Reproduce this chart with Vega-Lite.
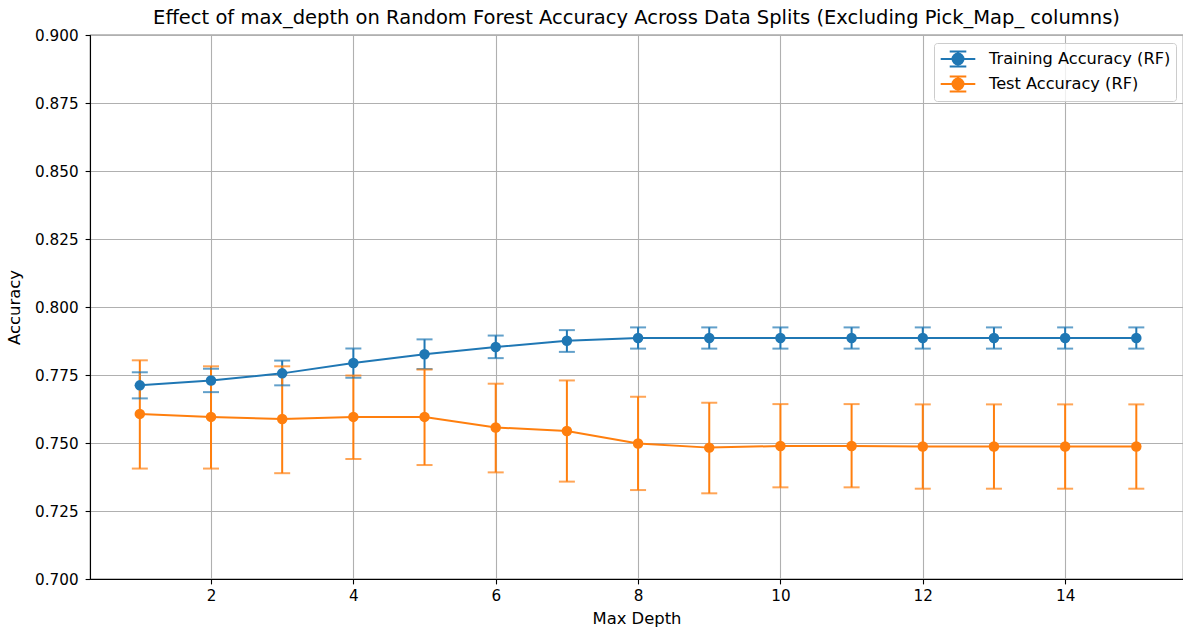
{
  "$schema": "https://vega.github.io/schema/vega-lite/v6.json",
  "autosize": {"type": "none"},
  "width": 1093,
  "height": 544,
  "padding": {"left": 90, "top": 35, "right": 0, "bottom": 56},
  "background": "white",
  "title": {
    "text": "Effect of max_depth on Random Forest Accuracy Across Data Splits (Excluding Pick_Map_ columns)",
    "frame": "group",
    "anchor": "middle",
    "baseline": "alphabetic",
    "offset": -15,
    "font": "DejaVu Sans",
    "fontSize": 19.5,
    "fontWeight": "normal",
    "color": "black"
  },
  "config": {
    "font": "DejaVu Sans",
    "view": {"stroke": "black", "strokeWidth": 1.1},
    "axis": {
      "labelFont": "DejaVu Sans",
      "labelFontSize": 15.2,
      "labelColor": "black",
      "titleFont": "DejaVu Sans",
      "titleFontSize": 16.4,
      "titleFontWeight": "normal",
      "titleColor": "black",
      "gridColor": "#b0b0b0",
      "gridWidth": 1.1,
      "gridOpacity": 1,
      "domainColor": "black",
      "domainWidth": 1.1,
      "tickColor": "black",
      "tickWidth": 1.1,
      "tickSize": 4.9,
      "labelFlush": false,
      "labelOverlap": false
    }
  },
  "data": {
    "values": [
      {"depth": 1, "series": "Training Accuracy (RF)", "mean": 0.7712, "lo": 0.7664, "hi": 0.7760},
      {"depth": 2, "series": "Training Accuracy (RF)", "mean": 0.7730, "lo": 0.7687, "hi": 0.7773},
      {"depth": 3, "series": "Training Accuracy (RF)", "mean": 0.7756, "lo": 0.7712, "hi": 0.7803},
      {"depth": 4, "series": "Training Accuracy (RF)", "mean": 0.7794, "lo": 0.7740, "hi": 0.7847},
      {"depth": 5, "series": "Training Accuracy (RF)", "mean": 0.7826, "lo": 0.7772, "hi": 0.7881},
      {"depth": 6, "series": "Training Accuracy (RF)", "mean": 0.7853, "lo": 0.7812, "hi": 0.7895},
      {"depth": 7, "series": "Training Accuracy (RF)", "mean": 0.7876, "lo": 0.7835, "hi": 0.7915},
      {"depth": 8, "series": "Training Accuracy (RF)", "mean": 0.7886, "lo": 0.7847, "hi": 0.7925},
      {"depth": 9, "series": "Training Accuracy (RF)", "mean": 0.7886, "lo": 0.7847, "hi": 0.7925},
      {"depth": 10, "series": "Training Accuracy (RF)", "mean": 0.7886, "lo": 0.7847, "hi": 0.7925},
      {"depth": 11, "series": "Training Accuracy (RF)", "mean": 0.7886, "lo": 0.7847, "hi": 0.7925},
      {"depth": 12, "series": "Training Accuracy (RF)", "mean": 0.7886, "lo": 0.7847, "hi": 0.7925},
      {"depth": 13, "series": "Training Accuracy (RF)", "mean": 0.7886, "lo": 0.7847, "hi": 0.7925},
      {"depth": 14, "series": "Training Accuracy (RF)", "mean": 0.7886, "lo": 0.7847, "hi": 0.7925},
      {"depth": 15, "series": "Training Accuracy (RF)", "mean": 0.7886, "lo": 0.7847, "hi": 0.7925},
      {"depth": 1, "series": "Test Accuracy (RF)", "mean": 0.7607, "lo": 0.7406, "hi": 0.7804},
      {"depth": 2, "series": "Test Accuracy (RF)", "mean": 0.7596, "lo": 0.7406, "hi": 0.7782},
      {"depth": 3, "series": "Test Accuracy (RF)", "mean": 0.7588, "lo": 0.7389, "hi": 0.7782},
      {"depth": 4, "series": "Test Accuracy (RF)", "mean": 0.7596, "lo": 0.7441, "hi": 0.7748},
      {"depth": 5, "series": "Test Accuracy (RF)", "mean": 0.7596, "lo": 0.7419, "hi": 0.7770},
      {"depth": 6, "series": "Test Accuracy (RF)", "mean": 0.7557, "lo": 0.7392, "hi": 0.7718},
      {"depth": 7, "series": "Test Accuracy (RF)", "mean": 0.7544, "lo": 0.7358, "hi": 0.7730},
      {"depth": 8, "series": "Test Accuracy (RF)", "mean": 0.7498, "lo": 0.7327, "hi": 0.7670},
      {"depth": 9, "series": "Test Accuracy (RF)", "mean": 0.7483, "lo": 0.7315, "hi": 0.7648},
      {"depth": 10, "series": "Test Accuracy (RF)", "mean": 0.7489, "lo": 0.7337, "hi": 0.7643},
      {"depth": 11, "series": "Test Accuracy (RF)", "mean": 0.7489, "lo": 0.7337, "hi": 0.7643},
      {"depth": 12, "series": "Test Accuracy (RF)", "mean": 0.7487, "lo": 0.7332, "hi": 0.7642},
      {"depth": 13, "series": "Test Accuracy (RF)", "mean": 0.7487, "lo": 0.7332, "hi": 0.7642},
      {"depth": 14, "series": "Test Accuracy (RF)", "mean": 0.7487, "lo": 0.7332, "hi": 0.7642},
      {"depth": 15, "series": "Test Accuracy (RF)", "mean": 0.7487, "lo": 0.7332, "hi": 0.7642}
    ]
  },
  "encoding": {
    "x": {
      "field": "depth",
      "type": "quantitative",
      "scale": {"domain": [0.3, 15.656], "nice": false, "zero": false},
      "axis": {"title": "Max Depth", "values": [2, 4, 6, 8, 10, 12, 14], "format": "d", "labelPadding": 5, "titlePadding": 6}
    },
    "color": {
      "field": "series",
      "type": "nominal",
      "scale": {"domain": ["Training Accuracy (RF)", "Test Accuracy (RF)"], "range": ["#1f77b4", "#ff7f0e"]},
      "legend": {
        "title": null,
        "orient": "none",
        "legendX": 844,
        "legendY": 8,
        "symbolType": "M-1.73,0L1.73,0M0,-0.75L0,0.75M-0.83,-0.75L0.83,-0.75M-0.83,0.75L0.83,0.75M-0.55,0A0.55,0.55,0,1,1,0.55,0A0.55,0.55,0,1,1,-0.55,0Z",
        "symbolSize": 400,
        "symbolOffset": 8,
        "symbolStrokeWidth": 2,
        "symbolOpacity": 1,
        "labelFont": "DejaVu Sans",
        "labelFontSize": 16.2,
        "labelColor": "black",
        "labelOffset": 20,
        "labelLimit": 400,
        "rowPadding": 1,
        "padding": 5,
        "strokeColor": "#cccccc",
        "fillColor": "rgba(255,255,255,0.8)",
        "cornerRadius": 3,
        "encode": {
          "symbols": {
            "update": {
              "fill": {"scale": "color", "field": "value"},
              "stroke": {"scale": "color", "field": "value"},
              "strokeWidth": {"value": 2},
              "opacity": {"value": 1}
            }
          }
        }
      }
    }
  },
  "layer": [
    {
      "mark": {"type": "rule", "strokeWidth": 2},
      "encoding": {
        "y": {
          "field": "lo",
          "type": "quantitative",
          "scale": {"domain": [0.7, 0.9], "nice": false, "zero": false},
          "axis": {"title": "Accuracy", "values": [0.7, 0.725, 0.75, 0.775, 0.8, 0.825, 0.85, 0.875, 0.9], "format": ".3f", "labelPadding": 7, "titlePadding": 12}
        },
        "y2": {"field": "hi"}
      }
    },
    {
      "mark": {"type": "tick", "orient": "horizontal", "size": 16, "thickness": 2},
      "encoding": {"y": {"field": "lo", "type": "quantitative"}}
    },
    {
      "mark": {"type": "tick", "orient": "horizontal", "size": 16, "thickness": 2},
      "encoding": {"y": {"field": "hi", "type": "quantitative"}}
    },
    {
      "mark": {"type": "line", "strokeWidth": 2},
      "encoding": {"y": {"field": "mean", "type": "quantitative"}}
    },
    {
      "mark": {"type": "point", "filled": true, "size": 110, "opacity": 1},
      "encoding": {"y": {"field": "mean", "type": "quantitative"}}
    }
  ]
}
